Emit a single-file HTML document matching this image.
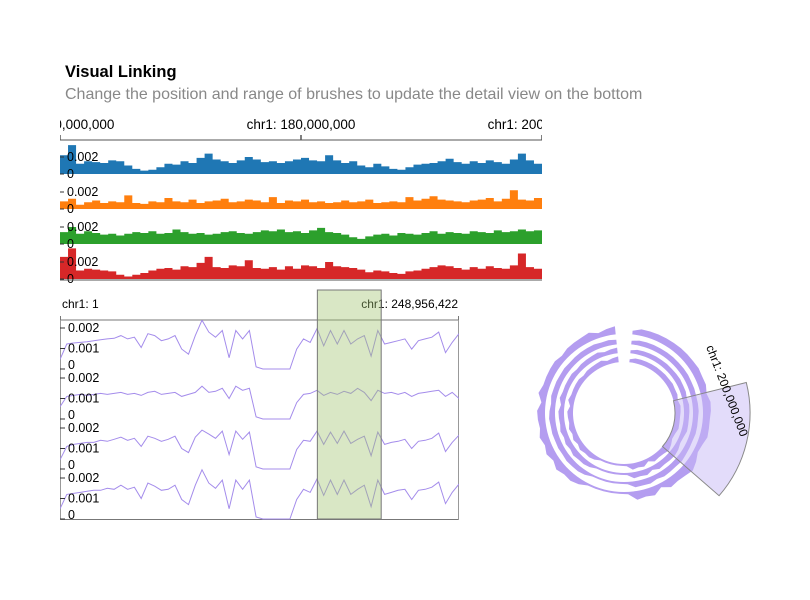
<!DOCTYPE html>
<html><head><meta charset="utf-8">
<style>
body{margin:0;background:#fff;font-family:"Liberation Sans",sans-serif;}
svg{display:block}
text{font-family:"Liberation Sans",sans-serif;}
</style></head>
<body>
<svg id="chart" width="810" height="600" viewBox="0 0 810 600" xmlns="http://www.w3.org/2000/svg">
<defs>
<clipPath id="topclip"><rect x="60" y="110" width="482" height="175"/></clipPath>
<clipPath id="botclip"><rect x="60" y="320" width="399" height="200"/></clipPath>
</defs>
<text x="65" y="77" font-size="16.5" font-weight="bold" fill="#000">Visual Linking</text>
<text x="65" y="99" font-size="16" fill="#888">Change the position and range of brushes to update the detail view on the bottom</text>
<g id="topview"></g>
<g id="bottomview"></g>
<g id="circview"></g>
</svg>
<script>
// ---- data ----
const topTickLabels = ["chr1: 160,000,000","chr1: 180,000,000","chr1: 200,000,000"];
const topTickPos = [160, 180, 200]; // Mb
const topDomain = [160, 200];
const topColors = ["#1f77b4","#ff7f0e","#2ca02c","#d62728"];
const topBlue = [2.2,3.4,1.2,1.5,1.4,1.3,1.6,1.5,1.0,0.6,0.4,0.5,0.8,1.2,1.1,1.5,1.3,1.9,2.4,1.7,1.5,1.3,1.6,2.0,1.7,1.4,1.5,1.3,1.5,1.7,1.9,1.6,1.5,2.2,1.6,1.3,1.5,1.0,0.8,1.2,0.9,0.6,0.5,0.8,1.1,1.2,1.3,1.5,1.8,1.4,1.2,1.5,1.3,1.6,1.4,1.2,1.7,2.4,1.6,1.2];
const topOrange = [0.9,1.2,0.5,0.8,1.0,0.7,0.9,0.8,1.6,0.7,0.6,0.9,0.8,1.3,0.9,0.8,1.1,0.7,0.9,1.0,1.2,0.8,0.9,1.1,1.0,0.8,1.4,0.7,1.0,0.9,1.1,0.8,0.9,0.7,0.8,1.0,0.8,0.9,1.1,0.7,0.8,0.9,0.8,1.4,1.0,1.2,1.5,1.1,1.0,0.9,0.8,1.0,1.1,1.3,0.9,1.2,2.2,1.1,1.0,1.3];
const topGreen = [1.4,2.0,1.2,1.5,1.3,1.1,1.2,1.0,1.2,1.4,1.3,1.5,1.2,1.3,1.7,1.4,1.2,1.3,1.1,1.2,1.4,1.5,1.3,1.2,1.4,1.6,1.5,1.7,1.4,1.5,1.3,1.6,1.9,1.4,1.3,1.1,0.8,0.6,0.9,1.1,1.2,1.0,1.3,1.2,1.1,1.3,1.5,1.2,1.4,1.3,1.2,1.5,1.4,1.3,1.6,1.4,1.5,1.7,1.5,1.6];
const topRed = [2.6,3.6,1.0,1.2,1.1,1.0,0.9,0.5,0.3,0.5,0.7,1.0,1.2,1.3,1.1,1.5,1.4,1.9,2.6,1.4,1.3,1.6,1.5,2.2,1.3,1.2,1.4,1.1,1.5,1.2,1.6,1.5,1.3,2.0,1.5,1.4,1.3,1.1,0.8,1.0,0.9,0.7,0.6,0.9,1.0,1.2,1.4,1.6,1.5,1.3,1.1,1.4,1.2,1.5,1.3,1.2,1.6,3.0,1.4,1.2];
const topSeries = [topBlue, topOrange, topGreen, topRed];

const botLabels = ["chr1: 1","chr1: 248,956,422"];
const botT1 = [0.47,1.22,1.27,1.3,1.33,1.38,1.43,1.47,1.5,1.63,1.47,1.55,1.05,1.72,1.63,1.38,1.47,1.63,0.97,0.72,1.63,2.38,1.8,1.55,1.88,0.55,1.88,1.47,1.88,0.1,0,0,0,0,0,0.97,1.47,1.3,1.97,1.13,1.88,1.22,1.88,1.22,1.47,1.63,0.63,1.88,1.22,1.3,1.38,1.47,0.97,1.38,1.47,1.55,1.8,0.8,1.3,1.72];
const botT2 = [0.6,1.1,1.15,1.2,1.15,1.2,1.25,1.2,1.25,1.3,1.2,1.25,1.15,1.3,1.35,1.2,1.25,1.3,1.1,1.2,1.3,1.6,1.3,1.35,1.5,1.0,1.6,1.4,1.5,0.1,0,0,0,0,0,0.8,1.2,1.25,1.4,1.15,1.3,1.2,1.35,1.25,1.5,1.3,0.9,1.4,1.25,1.3,1.2,1.3,1.1,1.25,1.3,1.35,1.4,1.1,1.3,1.0];
const botT3 = [0.45,1.1,1.2,1.25,1.3,1.3,1.4,1.35,1.45,1.55,1.4,1.5,1.1,1.6,1.5,1.35,1.45,1.6,1.0,0.8,1.55,1.9,1.7,1.5,1.85,0.7,1.85,1.45,1.8,0.1,0,0,0,0,0,0.95,1.4,1.35,1.85,1.2,1.8,1.25,1.85,1.25,1.45,1.6,0.65,1.8,1.2,1.3,1.35,1.45,1.0,1.35,1.4,1.5,1.75,0.85,1.3,1.65];
const botT4 = [0.5,1.2,1.25,1.3,1.35,1.4,1.4,1.5,1.45,1.65,1.45,1.55,1.0,1.75,1.6,1.4,1.45,1.65,0.95,0.7,1.65,2.4,1.75,1.5,1.9,0.5,1.9,1.45,1.9,0.1,0,0,0,0,0,0.95,1.45,1.3,1.95,1.15,1.9,1.2,1.9,1.2,1.45,1.65,0.6,1.9,1.2,1.3,1.4,1.45,0.95,1.4,1.45,1.55,1.8,0.75,1.3,1.7];
const botSeries = [botT1, botT2, botT3, botT4];
const brushRange = [0.645, 0.805]; // fraction of chr1
const circBrush = [76, 131]; // degrees

// ---- helpers ----
const NS="http://www.w3.org/2000/svg";
function mk(tag, attrs, parent){const e=document.createElementNS(NS,tag);for(const k in attrs)e.setAttribute(k,attrs[k]);parent.appendChild(e);return e;}

// ---- top overview ----
const topG=document.getElementById('topview');
const tx0=60, tx1=542, tTop=140, tH=35;
const xTop=v=>tx0+(v-topDomain[0])/(topDomain[1]-topDomain[0])*(tx1-tx0);
const tg=mk('g',{'clip-path':'url(#topclip)'},topG);
topTickLabels.forEach((l,i)=>{
  const t=mk('text',{x:xTop(topTickPos[i]),y:129,'text-anchor':'middle','font-size':13.5,fill:'#000'},tg);
  
  
  t.textContent=l;
  const tk=mk('line',{x1:xTop(topTickPos[i]),x2:xTop(topTickPos[i]),y1:tTop-5,y2:tTop,stroke:'#000'},tg);
  
  
});
topSeries.forEach((arr,si)=>{
  const base=tTop+(si+1)*tH-1, k=8.5;
  const n=arr.length, w=(tx1-tx0)/n;
  let d=`M${tx0},${base}`;
  arr.forEach((v,i)=>{const y=Math.max(base-v*k,tTop+si*tH);d+=`L${tx0+i*w},${y}L${tx0+(i+1)*w},${y}`;});
  d+=`L${tx1},${base}Z`;
  const p=mk('path',{d:d,fill:topColors[si]},tg);
  
  
  [[2,'0.002'],[0,'0']].forEach(([v,l])=>{
    const y=base-v*k;
    mk('line',{x1:60,x2:64,y1:y,y2:y,stroke:'#333'},tg);
    const t=mk('text',{x:67,y:y+4,'font-size':12.5,fill:'#000'},tg);
    
    
    t.textContent=l;
  });
});
mk('line',{x1:tx0,x2:tx1,y1:tTop,y2:tTop,stroke:'#555'},topG);
mk('line',{x1:tx0,x2:tx1,y1:tTop+4*tH,y2:tTop+4*tH,stroke:'#555'},topG);

// ---- bottom detail ----
const bot=document.getElementById('bottomview');
const bx0=60,bx1=459,bTop=320,bH=50;
const bl=mk('text',{x:62,y:308,'font-size':12,fill:'#000'},bot);


bl.textContent=botLabels[0];
const br=mk('text',{x:458,y:308,'text-anchor':'end','font-size':12,fill:'#000'},bot);


br.textContent=botLabels[1];
mk('line',{x1:bx0,x2:bx1,y1:bTop,y2:bTop,stroke:'#777'},bot);
mk('line',{x1:bx0+0.5,x2:bx0+0.5,y1:bTop-4,y2:bTop,stroke:'#777'},bot);
mk('line',{x1:bx1-0.5,x2:bx1-0.5,y1:bTop-4,y2:bTop,stroke:'#777'},bot);
mk('line',{x1:bx0,x2:bx1,y1:519.5,y2:519.5,stroke:'#777'},bot);
mk('line',{x1:bx0+0.5,x2:bx0+0.5,y1:bTop,y2:520,stroke:'#999'},bot);
mk('line',{x1:bx1-0.5,x2:bx1-0.5,y1:bTop,y2:520,stroke:'#999'},bot);
const bg=mk('g',{'clip-path':'url(#botclip)'},bot);
botSeries.forEach((arr,si)=>{
  const base=bTop+si*bH+49, k=20.5;
  const n=arr.length, w=(bx1-bx0)/(n-1);
  let d='';
  arr.forEach((v,i)=>{d+=(i?'L':'M')+(bx0+i*w).toFixed(1)+','+(base-v*k).toFixed(1);});
  const p=mk('path',{d:d,fill:'none',stroke:'#a48ceb','stroke-width':1},bg);
  
  
  [[2,'0.002'],[1,'0.001'],[0,'0']].forEach(([v,l])=>{
    const y=base-v*k;
    mk('line',{x1:60,x2:65,y1:y,y2:y,stroke:'#333'},bg);
    const t=mk('text',{x:68,y:y+4+(v===0?-4:0),'font-size':12.5,fill:'#000'},bg);
    
    
    t.textContent=l;
  });
});
const bx=bx0+brushRange[0]*(bx1-bx0), bw=(brushRange[1]-brushRange[0])*(bx1-bx0);
const brush=mk('rect',{x:bx,y:290,width:bw,height:229,fill:'rgba(160,195,110,0.4)',stroke:'#777','stroke-width':1},bot);



// ---- circular ----
const circ=document.getElementById('circview');
const cx=624,cy=413;
const rings=[[79,90],[69,78],[60,68],[51,59]];
const a0=6,a1=354;
function pol(r,deg){const a=deg*Math.PI/180;return [cx+r*Math.sin(a),cy-r*Math.cos(a)];}
const f=p=>p[0].toFixed(1)+','+p[1].toFixed(1);
botSeries.forEach((arr,si)=>{
  const [ri,ro]=rings[si];
  const k=(ro-ri-3)/2.2;
  const n=arr.length, step=(a1-a0)/(n-1);
  let d='M'+f(pol(ri,a0));
  arr.forEach((v,i)=>{
    const h=ri+Math.min(2+v*k,ro-ri);
    d+='L'+f(pol(h,a0+i*step));
  });
  d+='L'+f(pol(ri,a1))+`A${ri},${ri} 0 1 0 `+f(pol(ri,a0))+'Z';
  const p=mk('path',{d:d,fill:'#b49df0'},circ);
  
  
});
{
  const ri=51,ro=126,[s,e]=circBrush;
  const p1=pol(ri,s),p2=pol(ro,s),p3=pol(ro,e),p4=pol(ri,e);
  const w=mk('path',{d:`M${f(p1)}L${f(p2)}A${ro},${ro} 0 0 1 ${f(p3)}L${f(p4)}A${ri},${ri} 0 0 0 ${f(p1)}Z`,fill:'rgba(200,185,245,0.5)',stroke:'#888','stroke-width':1},circ);
  
  
  const t=mk('text',{x:0,y:0,'font-size':12,fill:'#000',transform:`translate(706,347) rotate(69)`},circ);
  
  
  t.textContent='chr1: 200,000,000';
}
</script>
</body></html>
